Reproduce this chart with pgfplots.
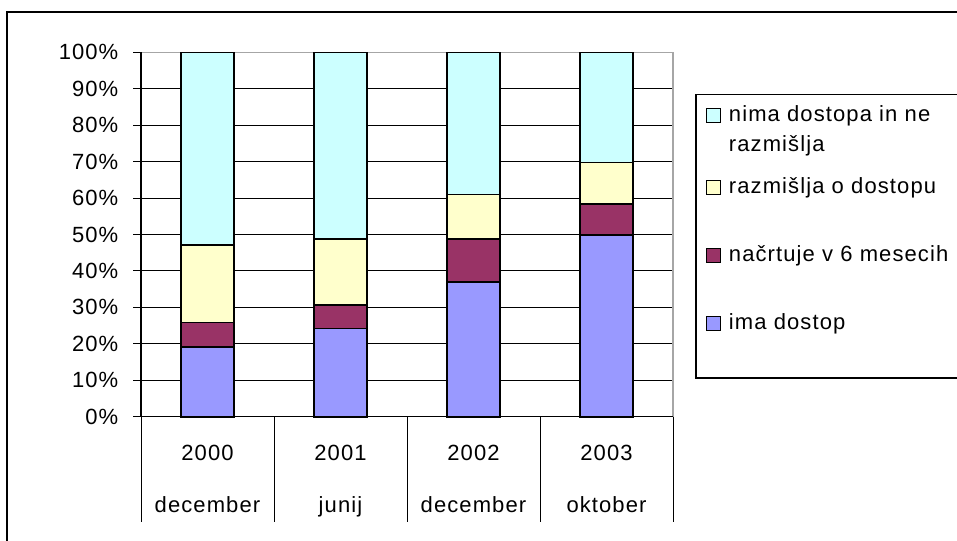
\documentclass[border=0pt]{standalone}
\usepackage{fontspec}
\setmainfont{Liberation Sans}[LetterSpace=5]
\usepackage{pgfplots}
\pgfplotsset{compat=1.18}
\definecolor{cIma}{HTML}{9999FF}
\definecolor{cNac}{HTML}{993366}
\definecolor{cRaz}{HTML}{FFFFCC}
\definecolor{cNima}{HTML}{CCFFFF}

\begin{document}
\begin{tikzpicture}
\path[use as bounding box, clip] (0,0) rectangle (478.5pt,-270pt);
\draw[line width=1pt] (3.5pt,-280pt) -- (3.5pt,-6pt) -- (490pt,-6pt);
\begin{axis}[
  at={(70.5pt,-208.35pt)}, anchor=south west,
  scale only axis, width=266pt, height=182.2pt,
  ybar stacked, bar width=0.4,
  xmin=-0.5, xmax=3.5, ymin=0, ymax=100,
  xtick={0,1,2,3},
  xticklabels={{2000\\[12.8pt]december},{2001\\[12.8pt]junij},{2002\\[12.8pt]december},{2003\\[12.8pt]oktober}},
  xtick style={draw=none},
  xticklabel style={align=center, yshift=-6.6pt},
  ytick={0,10,...,100},
  yticklabel={\pgfmathprintnumber{\tick}\%},
  /pgf/number format/assume math mode=true,
  yticklabel style={xshift=-3.8pt},
  ytick pos=left, tick align=outside, major tick length=4pt,
  tick style={black, line width=0.5pt},
  tick label style={font=\fontsize{11}{13.2}\selectfont},
  ymajorgrids, grid style={black, line width=0.5pt},
  axis line style={draw=gray!70, line width=0.75pt},
  clip=false,
  reverse legend,
  legend style={at={(1.0414,0.8856)}, anchor=north west, draw=black, line width=0.75pt,
    inner xsep=5pt, inner ysep=0pt, row sep=0pt, column sep=4pt,
    nodes={inner sep=0pt, text depth=}, cells={anchor=base west},
    font=\fontsize{11}{13.6}\selectfont},
  every axis plot post/.append style={draw=black, line width=0.8pt,
    legend image code/.code={\draw[##1, line width=0.6pt] (0pt,-0.5pt) rectangle (7pt,6.5pt);}},
]
\addplot[fill=cIma] coordinates {(0,19.2) (1,24.2) (2,36.9) (3,49.9)};
\addlegendentry{ima dostop\rule[-24pt]{0pt}{32pt}}
\addplot[fill=cNac] coordinates {(0,6.6) (1,6.5) (2,11.9) (3,8.4)};
\addlegendentry{načrtuje v 6 mesecih\rule[-26pt]{0pt}{34pt}}
\addplot[fill=cRaz] coordinates {(0,21.4) (1,18.1) (2,12.2) (3,11.5)};
\addlegendentry{\makebox[150pt][l]{razmišlja o dostopu}\rule[-26pt]{0pt}{34pt}}
\addplot[fill=cNima] coordinates {(0,52.8) (1,51.2) (2,39.0) (3,30.2)};
\addlegendentry{\begin{tabular}[t]{@{}l@{}}nima dostopa in ne\\[1.4pt]razmišlja\end{tabular}\rule[-28pt]{0pt}{41.5pt}}
\draw[black, line width=0.75pt] (rel axis cs:0,1) -- (rel axis cs:0,0) -- (rel axis cs:1,0);
\draw[black, line width=0.5pt] (axis cs:-0.5,0) -- ++(0pt,-52.6pt);
\draw[black, line width=0.5pt] (axis cs:0.5,0) -- ++(0pt,-52.6pt);
\draw[black, line width=0.5pt] (axis cs:1.5,0) -- ++(0pt,-52.6pt);
\draw[black, line width=0.5pt] (axis cs:2.5,0) -- ++(0pt,-52.6pt);
\draw[black, line width=0.5pt] (axis cs:3.5,0) -- ++(0pt,-52.6pt);
\end{axis}
\end{tikzpicture}
\end{document}
